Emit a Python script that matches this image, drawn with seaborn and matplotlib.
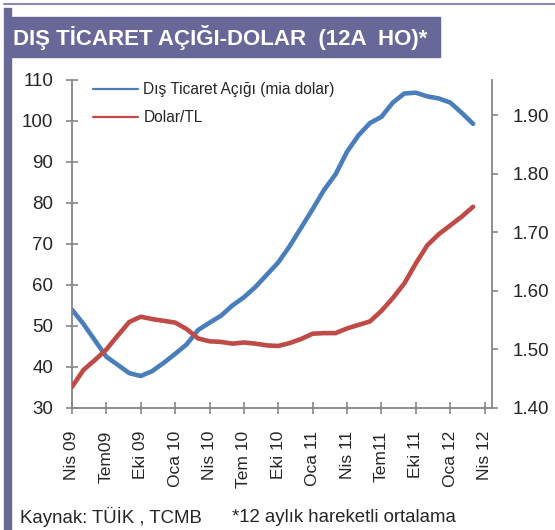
import numpy as np
import pandas as pd
import matplotlib
matplotlib.use('Agg')
import matplotlib.pyplot as plt
from matplotlib.lines import Line2D
from matplotlib.patches import Rectangle
import seaborn as sns

# veriler: Nisan 2009 - Mart 2012, aylik (12 aylik hareketli ortalama)
ay = list(range(36))
dis_ticaret = [54.0, 50.5, 46.5, 42.5, 40.5, 38.5, 37.8, 39.0, 41.0, 43.2,
               45.5, 49.0, 50.8, 52.5, 55.0, 57.0, 59.5, 62.5, 65.5, 69.5,
               74.0, 78.5, 83.2, 87.0, 92.5, 96.5, 99.5, 101.0, 104.5, 106.7,
               106.9, 106.0, 105.5, 104.5, 102.0, 99.3]
dolar_tl = [1.436, 1.465, 1.482, 1.500, 1.524, 1.547, 1.556, 1.552, 1.549, 1.546,
            1.535, 1.519, 1.514, 1.513, 1.510, 1.512, 1.510, 1.507, 1.506, 1.511,
            1.518, 1.527, 1.528, 1.528, 1.536, 1.542, 1.548, 1.566, 1.588, 1.613,
            1.647, 1.678, 1.697, 1.712, 1.727, 1.744]
etiketler = ['Nis 09', 'Tem09', 'Eki 09', 'Oca 10', 'Nis 10', 'Tem 10', 'Eki 10',
             'Oca 11', 'Nis 11', 'Tem11', 'Eki 11', 'Oca 12', 'Nis 12']

df = pd.DataFrame({'ay': ay, 'dis': dis_ticaret, 'dolar': dolar_tl})

sns.set_style('white')
plt.rcParams['font.family'] = ['Liberation Sans', 'DejaVu Sans']

mavi = '#4a7ebb'
kirmizi = '#be4b48'
mor = '#676798'
gri = '#868686'

fig = plt.figure(figsize=(5.55, 5.3), dpi=100)
ax = fig.add_axes([0.1297, 0.2302, 0.7568, 0.6189])
ax2 = ax.twinx()

sns.lineplot(data=df, x='ay', y='dis', ax=ax, color=mavi, linewidth=3.3,
             solid_capstyle='round', legend=False)
sns.lineplot(data=df, x='ay', y='dolar', ax=ax2, color=kirmizi, linewidth=3.3,
             solid_capstyle='round', legend=False)

ax.set_xlim(0, 36.65)
ax.set_ylim(30, 110)
ax2.set_ylim(1.40, 1.9607)
ax.set_yticks(range(30, 111, 10))
ax2.set_yticks([1.40, 1.50, 1.60, 1.70, 1.80, 1.90])
ax2.set_yticklabels(['1.40', '1.50', '1.60', '1.70', '1.80', '1.90'])
ax.set_xticks(range(0, 37, 3))
ax.set_xticklabels(etiketler, rotation=90)
ax.set_xlabel('')
ax.set_ylabel('')
ax2.set_ylabel('')

for a in (ax, ax2):
    for s in a.spines.values():
        s.set_visible(False)
    a.grid(False)
ax.spines['left'].set_visible(True)
ax.spines['bottom'].set_visible(True)
ax2.spines['right'].set_visible(True)
for s in (ax.spines['left'], ax.spines['bottom'], ax2.spines['right']):
    s.set_color(gri)
    s.set_linewidth(1.3)

ax.tick_params(axis='y', direction='inout', length=9, width=1.2, color=gri,
               labelsize=13.5, pad=9, left=True)
ax.tick_params(axis='x', direction='inout', length=9, width=1.2, color=gri,
               labelsize=12.5, pad=12, bottom=True)
ax2.tick_params(axis='y', direction='out', length=4, width=1.2, color=gri,
                labelsize=13.5, pad=11, right=True)

# lejant
h = [Line2D([], [], color=mavi, lw=1.6), Line2D([], [], color=kirmizi, lw=1.6)]
fig.legend(h, ['Dış Ticaret Açığı (mia dolar)', 'Dolar/TL'],
           loc='upper left', bbox_to_anchor=(0.156, 0.857), frameon=False,
           fontsize=11.2, handlelength=2.9, handletextpad=0.35, labelspacing=0.85,
           borderaxespad=0)

# baslik ve cerceve
fig.patches.append(Rectangle((4 / 555, 0), 7 / 555, 1 - 8 / 530,
                             transform=fig.transFigure, color=mor, zorder=0))
fig.lines.append(Line2D([4 / 555, 1], [1 - 4 / 530, 1 - 4 / 530],
                        transform=fig.transFigure, color='#8a8ab0', lw=1.5))
fig.patches.append(Rectangle((12 / 555, 1 - 57 / 530), 428 / 555, 40 / 530,
                             transform=fig.transFigure, color=mor, zorder=0))
fig.text(13 / 555, 1 - 37 / 530, 'DIŞ TİCARET AÇIĞI-DOLAR  (12A  HO)*',
         color='white', fontsize=16, fontweight='bold', va='center', ha='left')

fig.text(20 / 555, 1 - 517 / 530, 'Kaynak: TÜİK , TCMB', fontsize=13.4,
         va='center', ha='left')
fig.text(232 / 555, 1 - 517 / 530, '*12 aylık hareketli ortalama', fontsize=13.4,
         va='center', ha='left')

plt.savefig('out.png', dpi=100)
